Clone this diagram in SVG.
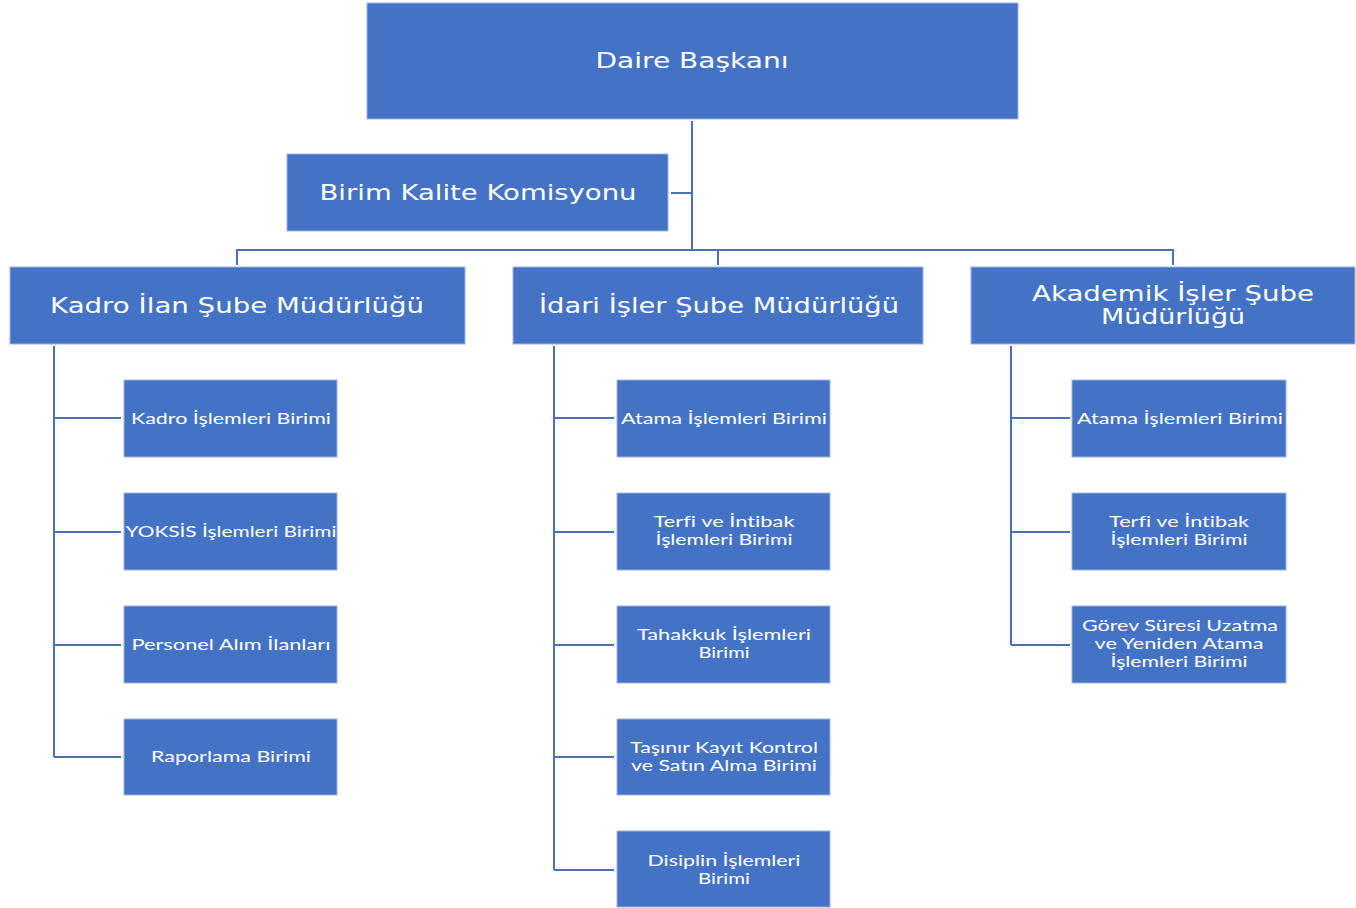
<svg xmlns="http://www.w3.org/2000/svg" width="1356" height="908" viewBox="0 0 1356 908">
<style>
.box{fill:#4472C4;stroke:#9DB4E0;stroke-width:1}
.big{font-family:"DejaVu Sans","Liberation Sans",sans-serif;font-size:22px;fill:#fff;text-anchor:middle}
.sm{font-family:Lato,"Open Sans",sans-serif;font-size:16px;fill:#fff;text-anchor:middle;font-variant-ligatures:none}
.ln{stroke:#4A70B8;stroke-width:2;fill:none}
</style>
<rect width="1356" height="908" fill="#fff"/>
<g id="connectors">
<path class="ln" d="M692 121V250M671 193H692M237 265V250H1173V265M718 250V265"/>
<path class="ln" d="M54 346V757M54 418H121M54 532H121M54 645H121M54 757H121"/>
<path class="ln" d="M554 346V870M554 418H614M554 532H614M554 645H614M554 757H614M554 870H614"/>
<path class="ln" d="M1011 346V645M1011 418H1070M1011 532H1070M1011 645H1070"/>
</g>
<g id="daire"><rect class="box" x="367" y="3" width="651" height="116"/><text class="big" x="692" y="68" textLength="193" lengthAdjust="spacingAndGlyphs">Daire Başkanı</text></g>
<g id="kalite"><rect class="box" x="287" y="154" width="381" height="77"/><text class="big" x="478" y="200" textLength="317" lengthAdjust="spacingAndGlyphs">Birim Kalite Komisyonu</text></g>
<g id="kadroilan"><rect class="box" x="10" y="267" width="455" height="77"/><text class="big" x="237" y="313" textLength="374" lengthAdjust="spacingAndGlyphs">Kadro İlan Şube Müdürlüğü</text></g>
<g id="idari"><rect class="box" x="513" y="267" width="410" height="77"/><text class="big" x="719" y="313" textLength="360" lengthAdjust="spacingAndGlyphs">İdari İşler Şube Müdürlüğü</text></g>
<g id="akademik"><rect class="box" x="971" y="267" width="384" height="77"/><text class="big" x="1173" y="301" textLength="282" lengthAdjust="spacingAndGlyphs">Akademik İşler Şube</text><text class="big" x="1173" y="324" textLength="144" lengthAdjust="spacingAndGlyphs">Müdürlüğü</text></g>

<g id="k1"><rect class="box" x="124" y="380" width="213" height="77"/><text class="sm" x="231" y="424" textLength="200" lengthAdjust="spacingAndGlyphs">Kadro İşlemleri Birimi</text></g>
<g id="k2"><rect class="box" x="124" y="493" width="213" height="77"/><text class="sm" x="231" y="537" textLength="211" lengthAdjust="spacingAndGlyphs">YOKSİS İşlemleri Birimi</text></g>
<g id="k3"><rect class="box" x="124" y="606" width="213" height="77"/><text class="sm" x="231" y="650" textLength="199" lengthAdjust="spacingAndGlyphs">Personel Alım İlanları</text></g>
<g id="k4"><rect class="box" x="124" y="719" width="213" height="76"/><text class="sm" x="231" y="762" textLength="160" lengthAdjust="spacingAndGlyphs">Raporlama Birimi</text></g>

<g id="i1"><rect class="box" x="617" y="380" width="213" height="77"/><text class="sm" x="724" y="424" textLength="206" lengthAdjust="spacingAndGlyphs">Atama İşlemleri Birimi</text></g>
<g id="i2"><rect class="box" x="617" y="493" width="213" height="77"/><text class="sm" x="724" y="527" textLength="141" lengthAdjust="spacingAndGlyphs">Terfi ve İntibak</text><text class="sm" x="724" y="545" textLength="137" lengthAdjust="spacingAndGlyphs">İşlemleri Birimi</text></g>
<g id="i3"><rect class="box" x="617" y="606" width="213" height="77"/><text class="sm" x="724" y="640" textLength="174" lengthAdjust="spacingAndGlyphs">Tahakkuk İşlemleri</text><text class="sm" x="724" y="658" textLength="51" lengthAdjust="spacingAndGlyphs">Birimi</text></g>
<g id="i4"><rect class="box" x="617" y="719" width="213" height="76"/><text class="sm" x="724" y="753" textLength="188" lengthAdjust="spacingAndGlyphs">Taşınır Kayıt Kontrol</text><text class="sm" x="724" y="771" textLength="186" lengthAdjust="spacingAndGlyphs">ve Satın Alma Birimi</text></g>
<g id="i5"><rect class="box" x="617" y="831" width="213" height="76"/><text class="sm" x="724" y="866" textLength="153" lengthAdjust="spacingAndGlyphs">Disiplin İşlemleri</text><text class="sm" x="724" y="884" textLength="52" lengthAdjust="spacingAndGlyphs">Birimi</text></g>

<g id="a1"><rect class="box" x="1072" y="380" width="214" height="77"/><text class="sm" x="1180" y="424" textLength="206" lengthAdjust="spacingAndGlyphs">Atama İşlemleri Birimi</text></g>
<g id="a2"><rect class="box" x="1072" y="493" width="214" height="77"/><text class="sm" x="1179" y="527" textLength="140" lengthAdjust="spacingAndGlyphs">Terfi ve İntibak</text><text class="sm" x="1179" y="545" textLength="137" lengthAdjust="spacingAndGlyphs">İşlemleri Birimi</text></g>
<g id="a3"><rect class="box" x="1072" y="606" width="214" height="77"/><text class="sm" x="1180" y="631" textLength="196" lengthAdjust="spacingAndGlyphs">Görev Süresi Uzatma</text><text class="sm" x="1179" y="649" textLength="169" lengthAdjust="spacingAndGlyphs">ve Yeniden Atama</text><text class="sm" x="1179" y="667" textLength="137" lengthAdjust="spacingAndGlyphs">İşlemleri Birimi</text></g>
</svg>
